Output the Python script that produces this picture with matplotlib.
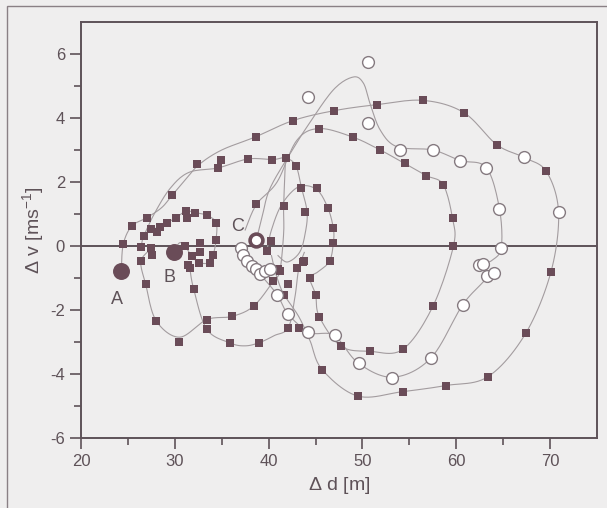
import numpy as np
import matplotlib
matplotlib.use("Agg")
import matplotlib.pyplot as plt
from matplotlib.patches import Rectangle

plt.rcParams["font.family"] = ["Liberation Sans", "DejaVu Sans"]
plt.rcParams["axes.unicode_minus"] = False
plt.rcParams["mathtext.fontset"] = "custom"
plt.rcParams["mathtext.rm"] = "Liberation Sans"

# ---- data (delta d [m], delta v [m/s]) ----
square_d = [24.5, 25.4, 27.0, 28.1, 26.7, 27.5, 28.4, 29.2, 30.1, 31.2, 32.2, 31.3, 33.4, 34.4,
            34.4, 32.7, 32.7, 34.1, 33.7, 32.6, 31.8, 31.6, 31.1, 26.4, 27.5, 26.4, 27.6,
            29.7, 32.4, 34.6, 34.9, 37.8, 40.4, 41.8, 42.9, 38.6, 42.6,
            26.9, 28.0, 30.4, 33.4, 33.4, 36.1, 38.4, 35.9, 39.0, 32.0, 31.4,
            38.7, 41.6, 43.9, 43.5, 45.2, 46.3, 46.9, 46.9, 40.3, 39.8, 41.0, 43.0, 43.8,
            40.5, 42.1, 44.4, 41.6, 45.0, 45.4, 42.1, 43.2, 46.5, 41.2, 43.7,
            47.0, 51.6, 56.5, 60.8, 64.3, 69.6, 45.4, 49.0, 51.9, 54.5, 56.8, 58.6, 59.6, 59.7,
            70.1, 67.4, 63.4, 58.9, 54.3, 49.5, 45.7, 57.5, 54.3, 50.8, 47.7]
square_v = [0.05, 0.62, 0.88, 0.43, 0.32, 0.52, 0.58, 0.73, 0.88, 1.09, 1.04, 0.88, 0.96, 0.73,
            0.20, 0.10, -0.20, -0.27, -0.52, -0.52, -0.32, -0.68, 0.00, -0.04, -0.06, -0.47, -0.27,
            1.58, 2.55, 2.44, 2.70, 2.72, 2.70, 2.75, 2.51, 3.41, 3.92,
            -1.20, -2.33, -3.00, -2.30, -2.60, -2.20, -1.88, -3.03, -3.02, -1.33, -0.58,
            1.30, 1.24, 1.06, 1.82, 1.80, 1.20, 0.55, 0.10, 0.15, -0.16, -0.73, -0.70, -0.47,
            -1.10, -1.20, -1.00, -1.52, -1.52, -2.21, -2.55, -2.55, -0.47, -0.77, -0.50,
            4.23, 4.42, 4.55, 4.17, 3.17, 2.33, 3.67, 3.40, 3.00, 2.58, 2.20, 1.92, 0.86, 0.00,
            -0.80, -2.73, -4.08, -4.36, -4.55, -4.69, -3.86, -1.89, -3.23, -3.29, -3.13]

circle_d = [37.1, 37.3, 37.7, 38.2, 38.7, 39.1, 39.6, 40.1, 40.9, 42.1, 44.2, 47.1, 49.6, 53.2,
            57.3, 60.7, 62.4, 62.9, 63.3, 64.0, 64.8, 64.6, 63.2, 60.4, 57.5, 54.0, 50.6,
            44.2, 50.6, 67.2, 70.9]
circle_v = [-0.05, -0.27, -0.47, -0.63, -0.73, -0.89, -0.79, -0.73, -1.52, -2.14, -2.69, -2.77,
            -3.67, -4.12, -3.50, -1.83, -0.60, -0.55, -0.95, -0.85, -0.05, 1.17, 2.45, 2.67,
            3.00, 3.00, 3.85, 4.65, 5.76, 2.77, 1.07]

start_labels = ["A", "B", "C"]
start_d = [24.3, 29.9, 38.7]
start_v = [-0.77, -0.18, 0.20]

# trajectory curves (points along each thin line)
curve_outer_d = [24.3, 24.5, 25.4, 27.0, 28.6, 29.7, 31.2, 32.6, 35.0, 38.6, 42.6, 47.0, 51.6,
                 56.5, 60.8, 64.3, 67.2, 69.6, 70.9, 70.1, 67.4, 63.4, 58.9, 54.3, 49.5, 45.7,
                 44.4, 43.2, 41.6, 40.8, 40.3]
curve_outer_v = [-0.77, 0.05, 0.62, 0.88, 1.20, 1.58, 2.10, 2.55, 3.00, 3.41, 3.92, 4.23, 4.42,
                 4.55, 4.17, 3.17, 2.77, 2.33, 1.07, -0.80, -2.73, -4.08, -4.36, -4.55, -4.69,
                 -3.86, -2.95, -2.20, -1.50, -0.90, -0.30]

curve_circ_d = [38.7, 39.3, 40.1, 42.1, 44.1, 46.9, 49.0, 50.1, 50.8, 51.9, 53.7, 57.5, 60.4,
                63.2, 64.6, 64.8, 63.8, 62.6, 63.3, 60.7, 57.3, 53.3, 49.6, 47.0, 44.4, 42.1,
                40.9, 39.1, 38.2, 37.3, 37.1]
curve_circ_v = [0.20, 0.90, 1.77, 2.80, 3.73, 4.88, 5.28, 5.09, 4.46, 3.62, 3.10, 3.00, 2.67,
                2.45, 1.17, -0.05, -0.45, -0.60, -0.95, -1.83, -3.50, -4.10, -3.67, -2.80,
                -2.70, -2.14, -1.52, -0.89, -0.63, -0.27, -0.05]

curve_flat_d = [26.7, 27.8, 29.5, 31.5, 34.6, 37.8, 40.4, 41.8, 42.9, 43.5, 44.1, 43.9, 43.3,
                42.0, 41.0]
curve_flat_v = [0.32, 1.00, 1.80, 2.30, 2.44, 2.72, 2.70, 2.75, 2.51, 1.82, 1.06, 0.40, -0.20,
                -0.50, -0.30]

curve_mid_d = [39.8, 40.3, 41.4, 43.2, 45.1, 46.3, 46.9, 46.9, 46.5, 45.3, 44.4, 45.0, 45.4,
               47.7, 50.8, 54.3, 57.5, 59.7, 59.6, 58.6, 56.8, 54.5, 51.9, 49.0, 45.4, 43.0,
               40.9, 38.7, 37.5]
curve_mid_v = [-0.16, 0.50, 1.30, 1.85, 1.77, 1.20, 0.55, 0.10, -0.47, -0.80, -1.00, -1.52,
               -2.21, -3.13, -3.29, -3.23, -1.89, 0.00, 0.86, 1.92, 2.20, 2.58, 3.00, 3.40,
               3.67, 3.30, 2.00, 1.30, 0.50]

curve_u1_d = [27.6, 26.4, 26.9, 28.0, 30.5, 33.4, 36.1, 38.4, 40.5, 41.2, 41.6, 41.6, 41.8]
curve_u1_v = [-0.06, -0.47, -1.20, -2.33, -2.85, -2.30, -2.20, -1.88, -1.10, -0.77, 0.40, 1.24,
              2.75]

curve_u2_d = [31.6, 32.0, 33.4, 35.9, 37.5, 39.0, 40.6, 42.1, 42.8, 43.2, 43.8]
curve_u2_v = [-0.68, -1.33, -2.60, -3.03, -3.12, -3.02, -2.80, -2.55, -1.60, -0.73, -0.20]

curve_loop_d = [26.4, 26.7, 27.5, 28.4, 29.2, 30.1, 31.2, 32.2, 33.4, 34.4, 34.4, 34.1, 33.7,
                32.6, 31.8, 31.1, 30.5, 29.9]
curve_loop_v = [-0.04, 0.32, 0.52, 0.58, 0.73, 0.88, 1.09, 1.04, 0.96, 0.73, 0.20, -0.27,
                -0.52, -0.52, -0.32, 0.00, 0.10, -0.18]

curves = [(curve_outer_d, curve_outer_v), (curve_circ_d, curve_circ_v),
          (curve_flat_d, curve_flat_v), (curve_mid_d, curve_mid_v),
          (curve_u1_d, curve_u1_v), (curve_u2_d, curve_u2_v),
          (curve_loop_d, curve_loop_v)]

PAPER = "#efeeee"
INK = "#5e5258"
MARK = "#6a4c58"
LINE = "#a39c9f"


def smooth(xs, ys, n=12):
    """Catmull-Rom pass through the read points, just for drawing the thin line."""
    p = np.column_stack([xs, ys]).astype(float)
    p = np.vstack([p[0], p, p[-1]])
    out = []
    t = np.linspace(0, 1, n, endpoint=False)[:, None]
    for i in range(1, len(p) - 2):
        p0, p1, p2, p3 = p[i - 1], p[i], p[i + 1], p[i + 2]
        seg = 0.5 * ((2 * p1) + (-p0 + p2) * t + (2 * p0 - 5 * p1 + 4 * p2 - p3) * t ** 2
                     + (-p0 + 3 * p1 - 3 * p2 + p3) * t ** 3)
        out.append(seg)
    out.append(p[-2][None, :])
    out = np.vstack(out)
    return out[:, 0], out[:, 1]


fig = plt.figure(figsize=(6.07, 5.08), dpi=100, facecolor=PAPER)
fig.patches.append(Rectangle((7 / 607, -0.05), 1.2, 1 - 6 / 508 + 0.05,
                             transform=fig.transFigure, fill=False,
                             edgecolor="#8a8085", linewidth=1.0))
ax = fig.add_axes([81 / 607, 1 - 438 / 508, 516 / 607, 416 / 508])
ax.set_facecolor(PAPER)

for cd, cv in curves:
    sx, sy = smooth(cd, cv)
    ax.plot(sx, sy, color=LINE, linewidth=0.8, zorder=2)

ax.axhline(0, color=INK, linewidth=1.4, zorder=1)

ax.scatter(square_d, square_v, marker="s", s=26, color=MARK, linewidths=0, zorder=4)
ax.scatter(circle_d, circle_v, marker="o", s=72, facecolor="white", edgecolor="#857a80",
           linewidths=1.0, zorder=5)

ax.scatter(start_d[:2], start_v[:2], marker="o", s=125, color=MARK, zorder=6)
ax.scatter(start_d[2:], start_v[2:], marker="o", s=85, facecolor="white", edgecolor=MARK,
           linewidths=2.6, zorder=6)
label_off = [(-0.5, -0.9), (-0.5, -0.8), (-2.0, 0.4)]
for lab, d, v, (ox, oy) in zip(start_labels, start_d, start_v, label_off):
    ax.text(d + ox, v + oy, lab, fontsize=13, color=INK, ha="center", va="center")

ax.set_xlim(20, 75)
ax.set_ylim(-6, 7)
ax.set_xticks([20, 30, 40, 50, 60, 70])
ax.set_xticks([25, 35, 45, 55, 65], minor=True)
ax.set_yticks([-6, -4, -2, 0, 2, 4, 6])
ax.set_yticks([-5, -3, -1, 1, 3, 5], minor=True)
ax.tick_params(which="major", direction="out", length=8, width=1.2, color=INK,
               labelcolor=INK, labelsize=12)
ax.tick_params(which="minor", direction="out", length=5, width=1.2, color=INK)
for s in ax.spines.values():
    s.set_color(INK)
    s.set_linewidth(1.4)

ax.set_xlabel(r"$\Delta$ d [m]", fontsize=14, color=INK, labelpad=4)
ax.set_ylabel(r"$\Delta$ v [ms$^{\mathregular{-1}}$]", fontsize=14, color=INK, labelpad=2)

fig.savefig("out.png", dpi=100, facecolor=PAPER)
